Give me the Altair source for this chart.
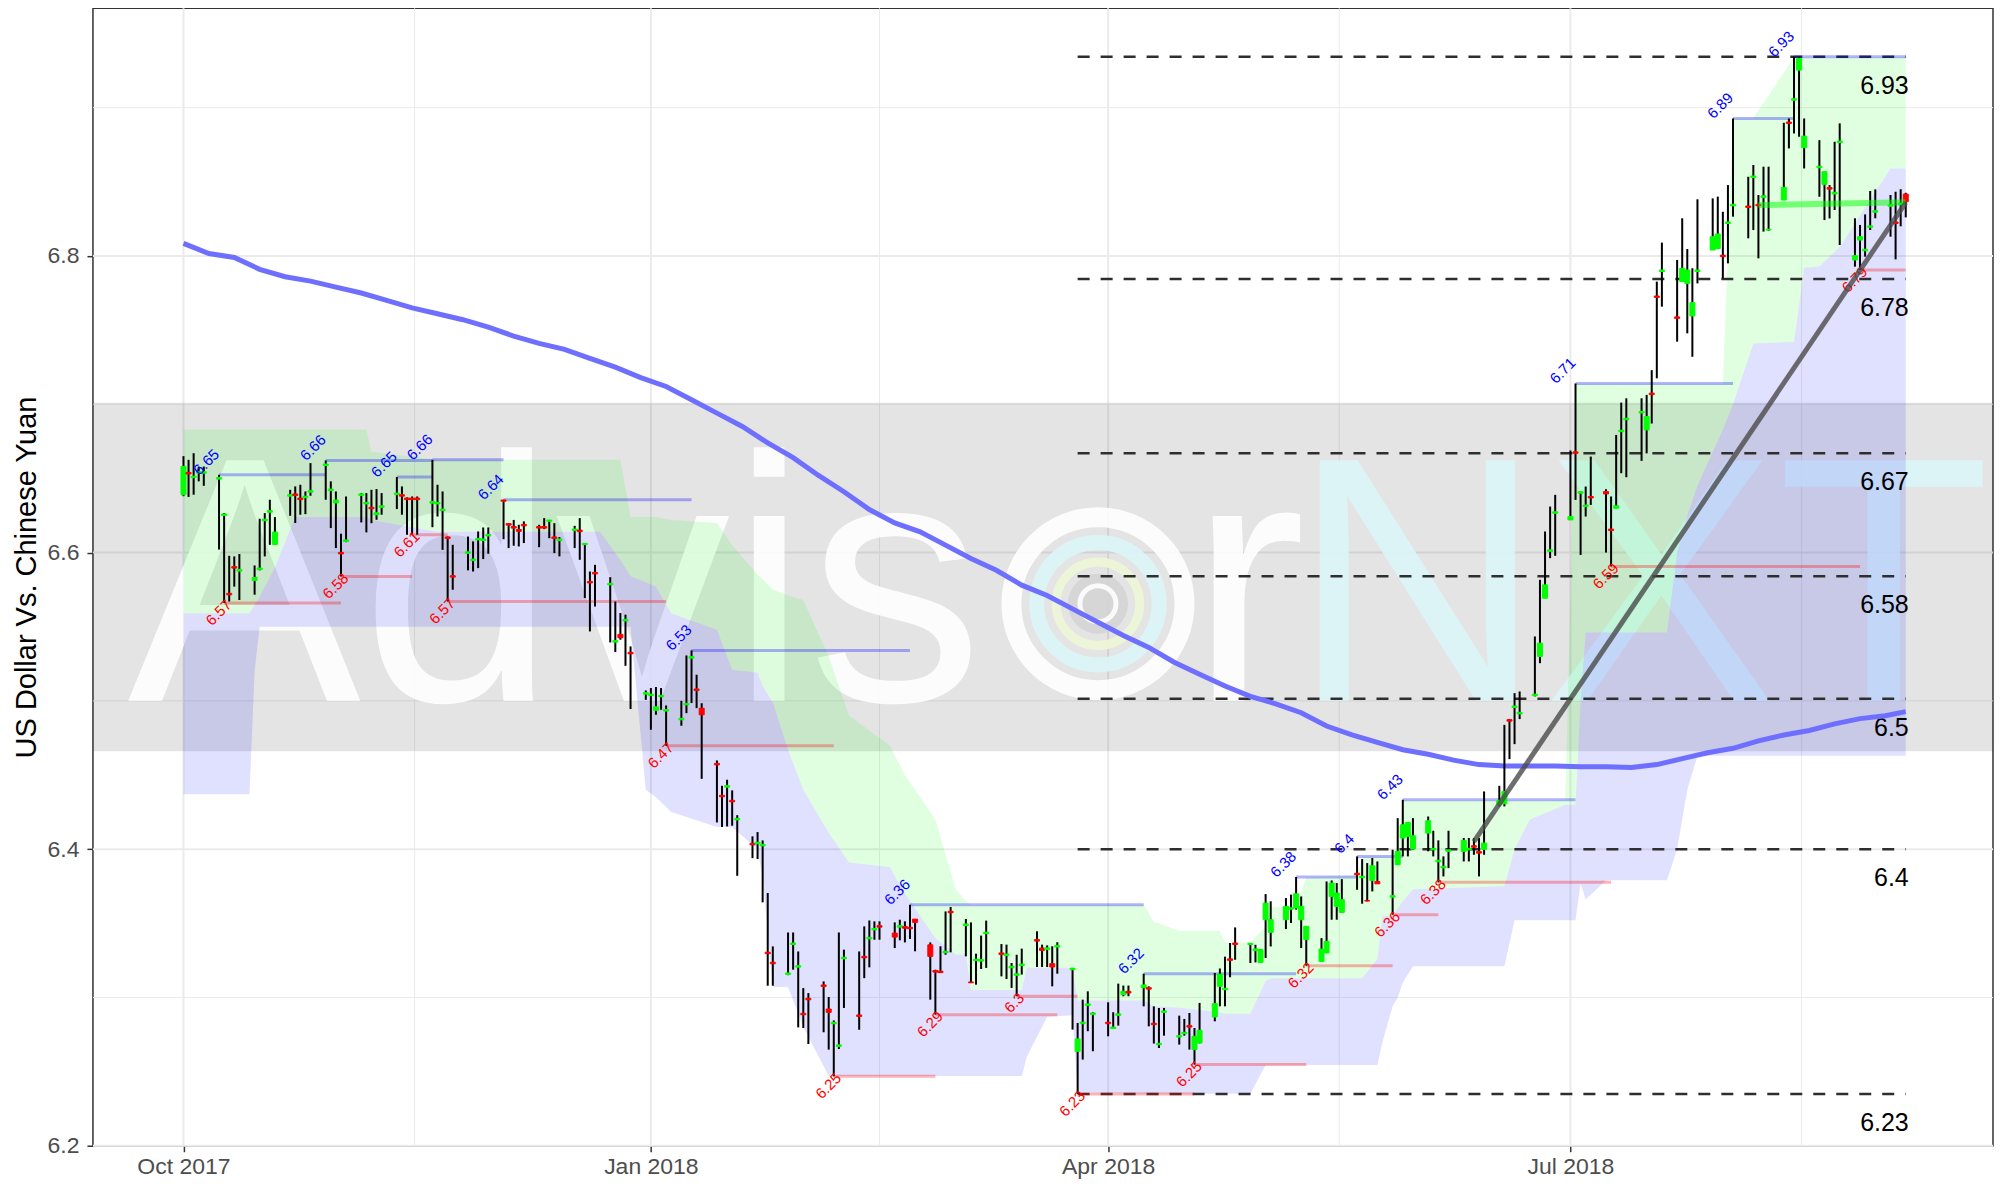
import altair as alt
import pandas as pd

W, H = 1901, 1138
FONT = "Liberation Sans"

# ---------------- daily candles (one row per trading day, week by week) -------------
OPEN = [
    6.639, 6.654, 6.6505, 6.6535, 6.6535,
    6.6495, 6.625, 6.5725, 6.5905, 6.5875,
    6.5812, 6.5885, 6.6215, 6.6272, 6.6055,
    6.638, 6.6395, 6.6367, 6.637, 6.6407,
    6.6587, 6.6418, 6.6335, 6.6001, 6.6075,
    6.6385, 6.6328, 6.6305, 6.6255, 6.6305,
    6.6391, 6.639, 6.6367, 6.6367, 6.6367,
    6.6333, 6.6328, 6.6283, 6.6105, 6.5844,
    6.5995, 6.5946, 6.6085, 6.6081, 6.6112,
    6.6354, 6.6195, 6.6175, 6.6155, 6.619,
    6.6175, 6.6175, 6.6211, 6.6105, 6.6081,
    6.6148, 6.6151, 6.6054, 6.5805, 6.5866,
    6.5782, 6.5396, 6.5448, 6.5539, 6.5327,
    6.5045, 6.5035, 6.4936, 6.5027, 6.4931,
    6.4872, 6.4973, 6.5288, 6.508, 6.495,
    6.4578, 6.4363, 6.4418, 6.4329, 6.4197,
    6.4039, 6.4036, 6.4022, 6.3305, 6.3237,
    6.3155, 6.3357, 6.3204, 6.2893, 6.2994,
    6.3084, 6.2922, 6.2822, 6.267, 6.3261,
    6.2882, 6.3277, 6.3395, 6.3455, 6.3484,
    6.3434, 6.3474, 6.3477, 6.3473, 6.3528,
    6.3355, 6.3181, 6.3177, 6.3301, 6.3581,
    6.3485, 6.3104, 6.3248, 6.3245, 6.343,
    6.33, 6.3283, 6.32, 6.3149, 6.3215,
    6.339, 6.3333, 6.3324, 6.3228, 6.334,
    6.3187, 6.2636, 6.2823, 6.2946, 6.2885,
    6.2833, 6.279, 6.2879, 6.3019, 6.3041,
    6.3066, 6.3066, 6.2826, 6.2681, 6.2899,
    6.2733, 6.2755, 6.281, 6.2648, 6.2693,
    6.2868, 6.3075, 6.3052, 6.326, 6.3367,
    6.3357, 6.3317, 6.3236, 6.3524, 6.3439,
    6.3524, 6.3595, 6.3603, 6.3524, 6.339,
    6.3243, 6.33, 6.3681, 6.3614, 6.3573,
    6.3837, 6.3807, 6.3653, 6.3789, 6.3782,
    6.3676, 6.3895, 6.4075, 6.4086, 6.4001,
    6.4108, 6.3995, 6.3915, 6.3874, 6.3985,
    6.3985, 6.3995, 6.4023, 6.3983, 6.3999,
    6.4299, 6.4306, 6.4873, 6.4955, 6.4912,
    6.5035, 6.5299, 6.5692, 6.6008, 6.6265,
    6.622, 6.6679, 6.64, 6.631, 6.6378,
    6.6411, 6.6158, 6.6299, 6.6815, 6.6895,
    6.6941, 6.6827, 6.7075, 6.773, 6.7895,
    6.7589, 6.7827, 6.7815, 6.7595, 6.7895,
    6.804, 6.805, 6.8005, 6.8219, 6.8338,
    6.8337, 6.8529, 6.8348, 6.8395, 6.8175,
    6.8377, 6.8903, 6.905, 6.9253, 6.873,
    6.8595, 6.8483, 6.8461, 6.8418, 6.8765,
    6.7973, 6.8107, 6.8035, 6.8193, 6.8295,
    6.8335, 6.8229, 6.8345, 6.8417,
]
HIGH = [
    6.665, 6.6625, 6.667, 6.658, 6.658,
    6.6524, 6.6266, 6.5978, 6.5974, 6.599,
    6.5913, 6.6228, 6.6266, 6.6356, 6.6239,
    6.6423, 6.6446, 6.6457, 6.6412, 6.6603,
    6.6621, 6.648, 6.6412, 6.6127, 6.6378,
    6.6401, 6.6401, 6.6423, 6.6428, 6.6401,
    6.6509, 6.6446, 6.6372, 6.6378, 6.6378,
    6.6625, 6.6457, 6.6412, 6.6108, 6.6052,
    6.6108, 6.6075, 6.6142, 6.6169, 6.6169,
    6.6356, 6.6198, 6.622, 6.6187, 6.621,
    6.6187, 6.6232, 6.622, 6.6198, 6.6104,
    6.618, 6.6232, 6.6063, 6.5872, 6.5917,
    6.5834, 6.567, 6.5592, 6.5581, 6.5367,
    6.507, 6.5086, 6.5093, 6.5086, 6.4969,
    6.5, 6.5306, 6.534, 6.5176, 6.4984,
    6.4598, 6.4427, 6.4468, 6.4396, 6.4229,
    6.4086, 6.4115, 6.4059, 6.3704, 6.3344,
    6.3438, 6.3438, 6.331, 6.3063, 6.3029,
    6.3108, 6.3003, 6.2845, 6.3438, 6.3322,
    6.331, 6.3479, 6.3519, 6.3513, 6.3513,
    6.3506, 6.3524, 6.3513, 6.3625, 6.3528,
    6.3371, 6.3187, 6.3345, 6.358, 6.361,
    6.3529, 6.3506, 6.3295, 6.3417, 6.3518,
    6.336, 6.3356, 6.3232, 6.3288, 6.3329,
    6.3446, 6.3356, 6.3351, 6.3345, 6.3372,
    6.3199, 6.2828, 6.2985, 6.3041, 6.29,
    6.2967, 6.29, 6.3093, 6.308, 6.308,
    6.316, 6.3075, 6.294, 6.2929, 6.2929,
    6.2877, 6.2855, 6.2895, 6.2794, 6.2963,
    6.3165, 6.3195, 6.3275, 6.3367, 6.3472,
    6.3367, 6.3355, 6.3326, 6.3697, 6.3648,
    6.367, 6.3693, 6.3812, 6.3681, 6.3479,
    6.34, 6.3782, 6.3789, 6.3771, 6.3798,
    6.3951, 6.3933, 6.3906, 6.394, 6.3917,
    6.3996, 6.4209, 6.4333, 6.418, 6.4209,
    6.422, 6.4124, 6.4059, 6.3951, 6.4124,
    6.4075, 6.4075, 6.4075, 6.4075, 6.4389,
    6.4427, 6.4838, 6.4877, 6.5052, 6.5063,
    6.5434, 6.5816, 6.6142, 6.631, 6.6389,
    6.6688, 6.714, 6.6411, 6.6445, 6.6647,
    6.6427, 6.6378, 6.6793, 6.7011, 6.704,
    6.704, 6.7063, 6.723, 6.7827, 6.809,
    6.7973, 6.8254, 6.8047, 6.7917, 6.8382,
    6.8388, 6.84, 6.8298, 6.8478, 6.8927,
    6.8534, 6.8613, 6.8411, 6.8602, 6.8602,
    6.8898, 6.8927, 6.9343, 6.9343, 6.8927,
    6.8781, 6.8568, 6.8478, 6.877, 6.8894,
    6.8254, 6.8209, 6.828, 6.8438, 6.8449,
    6.8411, 6.8433, 6.845, 6.8426,
]
LOW = [
    6.638, 6.6375, 6.639, 6.648, 6.645,
    6.602, 6.566, 6.567, 6.577, 6.568,
    6.5716, 6.588, 6.5974, 6.6052, 6.6052,
    6.6248, 6.6199, 6.6255, 6.6259, 6.6383,
    6.6356, 6.6165, 6.603, 6.5839, 6.607,
    6.6203, 6.6136, 6.6198, 6.6221, 6.6255,
    6.6293, 6.6255, 6.612, 6.612, 6.612,
    6.6171, 6.6243, 6.6018, 6.567, 6.5749,
    6.588, 6.5872, 6.5895, 6.5956, 6.5992,
    6.609, 6.603, 6.6046, 6.6041, 6.6064,
    6.6036, 6.6158, 6.6097, 6.5996, 6.5974,
    6.603, 6.5951, 6.5693, 6.5468, 6.5636,
    6.5394, 6.5329, 6.5412, 6.5236, 6.4945,
    6.5007, 6.4805, 6.4906, 6.494, 6.4697,
    6.4832, 6.4917, 6.4985, 6.4951, 6.4474,
    6.418, 6.4149, 6.4153, 6.4158, 6.382,
    6.3939, 6.3933, 6.3641, 6.3079, 6.3079,
    6.315, 6.3187, 6.2798, 6.2794, 6.2686,
    6.2765, 6.2648, 6.2468, 6.2652, 6.2929,
    6.2782, 6.313, 6.3203, 6.3389, 6.3389,
    6.3333, 6.3385, 6.3371, 6.3394, 6.3311,
    6.2985, 6.2884, 6.3165, 6.3288, 6.3304,
    6.3277, 6.3097, 6.3086, 6.3192, 6.3199,
    6.3142, 6.3124, 6.3064, 6.3008, 6.3154,
    6.3205, 6.3205, 6.3205, 6.3075, 6.316,
    6.2783, 6.2349, 6.2581, 6.2772, 6.2637,
    6.2738, 6.2788, 6.281, 6.3008, 6.3008,
    6.294, 6.2805, 6.2689, 6.2659, 6.2742,
    6.2682, 6.2742, 6.2648, 6.2547, 6.269,
    6.2839, 6.294, 6.294, 6.3136, 6.3254,
    6.3232, 6.3236, 6.3236, 6.3266, 6.3344,
    6.3461, 6.3502, 6.3592, 6.3333, 6.3214,
    6.3243, 6.33, 6.3524, 6.3524, 6.3573,
    6.3726, 6.3632, 6.3648, 6.3715, 6.3771,
    6.3558, 6.3895, 6.3951, 6.3951, 6.3996,
    6.3985, 6.3951, 6.3776, 6.3816, 6.3872,
    6.3917, 6.3917, 6.3962, 6.3816, 6.3962,
    6.4288, 6.4288, 6.4607, 6.4708, 6.4877,
    6.503, 6.5254, 6.5692, 6.5962, 6.5978,
    6.622, 6.6355, 6.5984, 6.6243, 6.6321,
    6.6, 6.5906, 6.6299, 6.6535, 6.6508,
    6.6618, 6.6669, 6.687, 6.7175, 6.7658,
    6.7422, 6.7827, 6.7478, 6.732, 6.7815,
    6.804, 6.805, 6.7849, 6.795, 6.8265,
    6.8119, 6.8175, 6.7984, 6.8164, 6.817,
    6.8377, 6.8725, 6.8826, 6.8804, 6.859,
    6.8399, 6.8242, 6.8253, 6.831, 6.8074,
    6.7928, 6.7905, 6.7995, 6.8175, 6.8254,
    6.813, 6.7977, 6.82, 6.826,
]
CLOSE = [
    6.658, 6.653, 6.6515, 6.6545, 6.6545,
    6.6505, 6.626, 6.5715, 6.5895, 6.5885,
    6.5832, 6.5895, 6.6225, 6.6282, 6.6138,
    6.639, 6.6385, 6.6357, 6.638, 6.6417,
    6.6597, 6.6428, 6.6354, 6.5991, 6.6085,
    6.6395, 6.6338, 6.6295, 6.6268, 6.6315,
    6.6401, 6.638, 6.6357, 6.6357, 6.6357,
    6.6343, 6.6338, 6.6293, 6.6095, 6.5834,
    6.6005, 6.5956, 6.6095, 6.6091, 6.6122,
    6.6346, 6.6185, 6.6165, 6.6143, 6.618,
    6.6165, 6.6165, 6.6219, 6.6095, 6.6091,
    6.6158, 6.6141, 6.6062, 6.5795, 6.5856,
    6.5792, 6.5406, 6.5425, 6.5549, 6.5317,
    6.5055, 6.5045, 6.496, 6.5037, 6.4941,
    6.4882, 6.4983, 6.5298, 6.507, 6.4906,
    6.4568, 6.4353, 6.4428, 6.4319, 6.4207,
    6.4029, 6.4046, 6.4032, 6.3295, 6.3227,
    6.3165, 6.3367, 6.3214, 6.2883, 6.2984,
    6.3074, 6.2899, 6.2832, 6.268, 6.3271,
    6.2872, 6.3267, 6.3405, 6.3465, 6.3474,
    6.3407, 6.3484, 6.3467, 6.3463, 6.3506,
    6.3277, 6.3171, 6.3167, 6.3311, 6.3571,
    6.3495, 6.3099, 6.3258, 6.3255, 6.344,
    6.329, 6.3293, 6.321, 6.3159, 6.3225,
    6.338, 6.3317, 6.3334, 6.3205, 6.335,
    6.3197, 6.272, 6.2833, 6.2956, 6.2895,
    6.2823, 6.28, 6.2889, 6.3041, 6.303,
    6.3084, 6.3056, 6.2816, 6.2691, 6.2909,
    6.2743, 6.2765, 6.28, 6.2738, 6.2778,
    6.2958, 6.3157, 6.3062, 6.325, 6.3357,
    6.3365, 6.3327, 6.3322, 6.3636, 6.3524,
    6.3614, 6.3605, 6.3699, 6.3614, 6.3479,
    6.3326, 6.3378, 6.3771, 6.3704, 6.3659,
    6.3827, 6.3817, 6.365, 6.3888, 6.3766,
    6.3686, 6.3985, 6.4164, 6.418, 6.409,
    6.4191, 6.4005, 6.3925, 6.3884, 6.3995,
    6.4059, 6.4005, 6.4013, 6.3973, 6.4041,
    6.4329, 6.4389, 6.4863, 6.4965, 6.4922,
    6.5045, 6.5389, 6.5782, 6.6018, 6.6275,
    6.6243, 6.6669, 6.641, 6.632, 6.6368,
    6.6395, 6.6148, 6.6315, 6.6825, 6.6905,
    6.6951, 6.6917, 6.7065, 6.772, 6.7905,
    6.7579, 6.7917, 6.7905, 6.7685, 6.7905,
    6.813, 6.8148, 6.7995, 6.8229, 6.8348,
    6.8327, 6.8539, 6.8338, 6.8405, 6.818,
    6.8462, 6.8893, 6.906, 6.9332, 6.8808,
    6.8605, 6.8568, 6.8451, 6.8429, 6.8775,
    6.8002, 6.813, 6.8045, 6.8203, 6.8305,
    6.8345, 6.8219, 6.8355, 6.8366,
]

n = min(len(OPEN), len(HIGH), len(LOW), len(CLOSE))
dates = (pd.bdate_range("2017-10-02", periods=n) - pd.Timedelta(days=1)).strftime("%Y-%m-%d")
candles = pd.DataFrame({"date": list(dates), "open": OPEN[:n], "high": HIGH[:n],
                        "low": LOW[:n], "close": CLOSE[:n]})

# ---------------- channel ribbons (upper / middle / lower edges) ----------------
RIB_DATES = ["2017-10-01", "2017-10-14", "2017-10-15", "2017-10-16", "2017-10-19", "2017-10-23",
             "2017-11-06", "2017-11-07", "2017-11-20", "2017-12-22", "2017-12-26", "2017-12-28",
             "2017-12-31", "2018-01-02", "2018-01-05", "2018-01-14", "2018-01-17", "2018-01-22",
             "2018-01-23", "2018-01-25", "2018-01-28", "2018-01-31", "2018-02-05", "2018-02-09",
             "2018-02-17", "2018-02-20", "2018-02-26", "2018-03-02", "2018-03-04", "2018-03-05",
             "2018-03-15", "2018-03-16", "2018-03-20", "2018-03-25", "2018-03-26", "2018-04-08",
             "2018-04-10", "2018-04-15", "2018-04-23", "2018-04-24", "2018-04-29", "2018-05-02",
             "2018-05-03", "2018-05-08", "2018-05-10", "2018-05-20", "2018-05-21", "2018-05-24",
             "2018-05-25", "2018-05-27", "2018-05-28", "2018-05-29", "2018-05-31", "2018-06-18",
             "2018-06-20", "2018-06-23", "2018-06-30", "2018-07-02", "2018-07-03", "2018-07-04",
             "2018-07-08", "2018-07-20", "2018-07-22", "2018-07-24", "2018-07-26", "2018-07-31",
             "2018-08-02", "2018-08-06", "2018-08-14", "2018-08-16", "2018-08-19", "2018-08-23",
             "2018-09-02", "2018-09-05"]
RIB_UPPER = [6.683, 6.683, 6.683, 6.683, 6.683, 6.683,
             6.683, 6.668, 6.6625, 6.6625, 6.6625, 6.624,
             6.624, 6.624, 6.622, 6.62, 6.605, 6.585,
             6.582, 6.575, 6.571, 6.568, 6.53, 6.49,
             6.47, 6.45, 6.42, 6.373, 6.365, 6.3625,
             6.3625, 6.3625, 6.3625, 6.3625, 6.3625, 6.3625,
             6.351, 6.345, 6.345, 6.337, 6.337, 6.348,
             6.361, 6.361, 6.381, 6.382, 6.395, 6.395,
             6.395, 6.395, 6.402, 6.433, 6.433, 6.433,
             6.433, 6.433, 6.433, 6.714, 6.714, 6.714,
             6.714, 6.714, 6.714, 6.714, 6.714, 6.714,
             6.893, 6.893, 6.934, 6.934, 6.934, 6.934,
             6.934, 6.934]
RIB_MID = [6.559, 6.559, 6.565, 6.57, 6.59, 6.624,
           6.624, 6.622, 6.614, 6.614, 6.595, 6.584,
           6.58, 6.577, 6.559, 6.548, 6.521, 6.519,
           6.51, 6.499, 6.467, 6.44, 6.411, 6.391,
           6.388, 6.37, 6.34, 6.329, 6.329, 6.305,
           6.305, 6.32, 6.32, 6.32, 6.298, 6.298,
           6.294, 6.293, 6.29, 6.289, 6.289, 6.311,
           6.313, 6.313, 6.313, 6.313, 6.313, 6.326,
           6.355, 6.355, 6.36, 6.365, 6.373, 6.375,
           6.40, 6.42, 6.43, 6.43, 6.50, 6.546,
           6.546, 6.546, 6.60, 6.625, 6.645, 6.683,
           6.70, 6.741, 6.742, 6.792, 6.793, 6.806,
           6.859, 6.859]
RIB_LOWER = [6.437, 6.437, 6.52, 6.55, 6.55, 6.55,
             6.55, 6.55, 6.55, 6.55, 6.55, 6.55,
             6.44, 6.435, 6.425, 6.415, 6.415, 6.40,
             6.381, 6.307, 6.307, 6.28, 6.247, 6.247,
             6.247, 6.247, 6.247, 6.247, 6.247, 6.247,
             6.247, 6.26, 6.287, 6.288, 6.236, 6.235,
             6.235, 6.235, 6.235, 6.235, 6.235, 6.2545,
             6.2545, 6.2545, 6.2545, 6.2545, 6.2545, 6.2545,
             6.27, 6.294, 6.30, 6.31, 6.321, 6.321,
             6.352, 6.352, 6.352, 6.352, 6.377, 6.366,
             6.379, 6.379, 6.40, 6.44, 6.463, 6.463,
             6.463, 6.463, 6.463, 6.463, 6.463, 6.463,
             6.463, 6.463]
ribbon = pd.DataFrame({"date": RIB_DATES, "upper": RIB_UPPER, "mid": RIB_MID, "lower": RIB_LOWER})

# ---------------- long moving average ----------------
MA_DATES = ["2017-10-01", "2017-10-06", "2017-10-11", "2017-10-16", "2017-10-21", "2017-10-26",
            "2017-10-31", "2017-11-05", "2017-11-10", "2017-11-15", "2017-11-20", "2017-11-25",
            "2017-11-30", "2017-12-05", "2017-12-10", "2017-12-15", "2017-12-20", "2017-12-25",
            "2017-12-30", "2018-01-04", "2018-01-09", "2018-01-14", "2018-01-19", "2018-01-24",
            "2018-01-29", "2018-02-03", "2018-02-08", "2018-02-13", "2018-02-18", "2018-02-23",
            "2018-02-28", "2018-03-05", "2018-03-10", "2018-03-15", "2018-03-20", "2018-03-25",
            "2018-03-30", "2018-04-04", "2018-04-09", "2018-04-14", "2018-04-19", "2018-04-24",
            "2018-04-29", "2018-05-04", "2018-05-09", "2018-05-14", "2018-05-19", "2018-05-24",
            "2018-05-29", "2018-06-03", "2018-06-08", "2018-06-13", "2018-06-18", "2018-06-23",
            "2018-06-28", "2018-07-03", "2018-07-08", "2018-07-13", "2018-07-18", "2018-07-23",
            "2018-07-28", "2018-08-02", "2018-08-07", "2018-08-12", "2018-08-17", "2018-08-22",
            "2018-08-27", "2018-09-01", "2018-09-05"]
MA_VALUES = [6.8085, 6.8016, 6.799, 6.791, 6.786, 6.783,
             6.779, 6.775, 6.770, 6.765, 6.761, 6.757,
             6.752, 6.746, 6.741, 6.737, 6.731, 6.725,
             6.718, 6.712, 6.703, 6.694, 6.685, 6.674,
             6.664, 6.652, 6.641, 6.629, 6.620, 6.614,
             6.605, 6.596, 6.588, 6.578, 6.571, 6.562,
             6.553, 6.544, 6.536, 6.526, 6.518, 6.510,
             6.503, 6.498, 6.492, 6.483, 6.477, 6.472,
             6.467, 6.464, 6.460, 6.457, 6.456, 6.456,
             6.456, 6.4556, 6.4556, 6.455, 6.457, 6.461,
             6.465, 6.468, 6.473, 6.477, 6.480, 6.4845,
             6.488, 6.490, 6.4927]
ma = pd.DataFrame({"date": MA_DATES, "value": MA_VALUES})

# ---------------- resistance (blue) and support (red) marks ----------------
RES_START = ["2017-10-08", "2017-10-29", "2017-11-12", "2017-11-19", "2017-12-03", "2018-01-09",
             "2018-02-21", "2018-04-08", "2018-05-08", "2018-05-20", "2018-05-29", "2018-07-02",
             "2018-08-02", "2018-08-14"]
RES_END = ["2017-10-29", "2017-11-19", "2017-11-19", "2017-12-03", "2018-01-09", "2018-02-21",
           "2018-04-08", "2018-05-08", "2018-05-20", "2018-05-29", "2018-07-02", "2018-08-02",
           "2018-08-14", "2018-09-05"]
RES_VALUE = [6.6524, 6.6621, 6.6509, 6.6625, 6.6356, 6.534, 6.3625, 6.316, 6.3812, 6.3951,
             6.4333, 6.714, 6.8927, 6.9343]
RES_TEXT = ["6.65", "6.66", "6.65", "6.66", "6.64", "6.53", "6.36", "6.32", "6.38", "6.4",
            "6.43", "6.71", "6.89", "6.93"]

SUP_START = ["2017-10-09", "2017-11-01", "2017-11-15", "2017-11-22", "2018-01-04", "2018-02-06",
             "2018-02-26", "2018-03-14", "2018-03-26", "2018-04-18", "2018-05-10", "2018-05-27",
             "2018-06-05", "2018-07-09", "2018-08-27"]
SUP_END = ["2017-11-01", "2017-11-15", "2017-11-22", "2018-01-04", "2018-02-06", "2018-02-26",
           "2018-03-22", "2018-03-26", "2018-04-18", "2018-05-10", "2018-05-27", "2018-06-05",
           "2018-07-09", "2018-08-27", "2018-09-05"]
SUP_VALUE = [6.566, 6.5839, 6.612, 6.567, 6.4697, 6.2468, 6.2884, 6.3008, 6.2349, 6.2547,
             6.3214, 6.3558, 6.3776, 6.5906, 6.7905]
SUP_TEXT = ["6.57", "6.58", "6.61", "6.57", "6.47", "6.25", "6.29", "6.3", "6.23", "6.25",
            "6.32", "6.36", "6.38", "6.59", "6.79"]

res = pd.DataFrame({"start": RES_START, "end": RES_END, "v": RES_VALUE, "t": RES_TEXT})
sup = pd.DataFrame({"start": SUP_START, "end": SUP_END, "v": SUP_VALUE, "t": SUP_TEXT})

# ---------------- retracement levels ----------------
FIB_VALUES = [6.9343, 6.7845, 6.667, 6.584, 6.5014, 6.400, 6.2349]
FIB_TEXT = ["6.93", "6.78", "6.67", "6.58", "6.5", "6.4", "6.23"]
FIB_START = "2018-03-26"
FIB_END = "2018-09-05"
fib = pd.DataFrame({"v": FIB_VALUES, "t": FIB_TEXT, "start": FIB_START, "end": FIB_END})

TREND_DATES = ["2018-06-12", "2018-09-05"]
TREND_VALUES = [6.405, 6.836]
FLAT_DATES = ["2018-08-07", "2018-09-05"]
FLAT_VALUES = [6.8343, 6.8362]

BAND = [6.466, 6.701]
Y_MAJOR = [6.2, 6.4, 6.6, 6.8]
Y_MINOR = [6.3, 6.5, 6.7, 6.9]
X_MAJOR = ["2017-10-01", "2018-01-01", "2018-04-01", "2018-07-01"]
X_MINOR = ["2017-11-15T12:00:00Z", "2018-02-15T00:00:00Z", "2018-05-16T12:00:00Z", "2018-08-15T12:00:00Z"]

WM_TEXT = ["Advis", "r", "NXT"]
WM_DATES = ["2017-09-20", "2018-04-17", "2018-05-07"]
WM_COLORS = ["#FFFFFF", "#FFFFFF", "#DDF6FA"]
LOGO_DATE = ["2018-03-30"]
LOGO_Y = [6.5655]

# ---------------- scales, axes & helpers ----------------
XS = alt.Scale(type="utc", domain=[
    alt.DateTime(year=2017, month=9, date=14, hours=4, utc=True),
    alt.DateTime(year=2018, month=9, date=21, hours=4, minutes=34, utc=True)])
YS = alt.Scale(domain=[6.2, 6.967], nice=False, zero=False)

X_AXIS = alt.Axis(
    values=[alt.DateTime(year=2017, month=10, date=1, utc=True),
            alt.DateTime(year=2018, month=1, date=1, utc=True),
            alt.DateTime(year=2018, month=4, date=1, utc=True),
            alt.DateTime(year=2018, month=7, date=1, utc=True)],
    format="%b %Y", title=None, grid=False, domain=False,
    tickSize=6, tickWidth=1.5, tickColor="#333333",
    labelFont=FONT, labelFontSize=23, labelColor="#4D4D4D", labelPadding=4,
    labelFlush=False, labelOverlap=False)
Y_AXIS = alt.Axis(
    values=Y_MAJOR, format=".1f", title="US Dollar Vs. Chinese Yuan",
    titleFont=FONT, titleFontSize=29, titleFontWeight="normal", titleColor="black",
    titlePadding=6, grid=False, domain=False,
    tickSize=6, tickWidth=1.5, tickColor="#333333",
    labelFont=FONT, labelFontSize=23, labelColor="#4D4D4D", labelPadding=8,
    labelFlush=False)


def X(f):
    return alt.X(f, type="temporal", scale=XS, axis=X_AXIS)


def Y(f):
    return alt.Y(f, type="quantitative", scale=YS, axis=Y_AXIS)


# grid
gy_major = alt.Chart(pd.DataFrame({"v": Y_MAJOR})).mark_rule(color="#EBEBEB", strokeWidth=2).encode(y=Y("v"))
gy_minor = alt.Chart(pd.DataFrame({"v": Y_MINOR})).mark_rule(color="#EBEBEB", strokeWidth=1).encode(y=Y("v"))
gx_major = alt.Chart(pd.DataFrame({"d": X_MAJOR})).mark_rule(color="#EBEBEB", strokeWidth=2).encode(x=X("d"))
gx_minor = alt.Chart(pd.DataFrame({"d": X_MINOR})).mark_rule(color="#EBEBEB", strokeWidth=1).encode(x=X("d"))

# watermark banner
band = alt.Chart(pd.DataFrame({"lo": [BAND[0]], "hi": [BAND[1]]})).mark_rect(
    color="black", opacity=0.105).encode(y=Y("lo"), y2=alt.Y2("hi"), x=alt.value(0), x2=alt.value(W))
wm = pd.DataFrame({"date": WM_DATES, "y": [6.5] * 3, "t": WM_TEXT, "c": WM_COLORS})
wm_text = alt.Chart(wm).mark_text(font=FONT, fontSize=350, align="left", baseline="alphabetic",
                                  opacity=0.9).encode(
    x=X("date"), y=Y("y"), text="t:N", color=alt.Color("c:N", scale=None))
logo = pd.DataFrame({"date": LOGO_DATE, "y": LOGO_Y})
ring_outer = alt.Chart(logo).mark_point(shape="circle", filled=False, size=30000, strokeWidth=20,
                                        color="white", opacity=0.9).encode(x=X("date"), y=Y("y"))
ring_mid = alt.Chart(logo).mark_point(shape="circle", filled=False, size=15000, strokeWidth=15,
                                      color="#DDF6FA", opacity=0.9).encode(x=X("date"), y=Y("y"))
ring_in = alt.Chart(logo).mark_point(shape="circle", filled=False, size=7000, strokeWidth=9,
                                     color="#EEF7D8", opacity=0.9).encode(x=X("date"), y=Y("y"))
disk = alt.Chart(logo).mark_point(shape="circle", filled=True, size=3600,
                                  color="#D4D4D4", opacity=0.9).encode(x=X("date"), y=Y("y"))
disk_ring = alt.Chart(logo).mark_point(shape="circle", filled=False, size=1300, strokeWidth=5,
                                       color="white", opacity=0.9).encode(x=X("date"), y=Y("y"))

# ribbons
green_rib = alt.Chart(ribbon).mark_area(color="#00FF00", opacity=0.12).encode(
    x=X("date"), y=Y("upper"), y2=alt.Y2("mid"))
blue_rib = alt.Chart(ribbon).mark_area(color="#0000FF", opacity=0.12).encode(
    x=X("date"), y=Y("mid"), y2=alt.Y2("lower"))

# retracement levels
fib_lines = alt.Chart(fib).mark_rule(color="#2E2E2E", strokeWidth=2.5, strokeDash=[12, 11]).encode(
    x=X("start"), x2=alt.X2("end"), y=Y("v"))
fib_text = alt.Chart(fib).mark_text(font=FONT, fontSize=25, align="right", baseline="top", dy=17,
                                    dx=3, color="black").encode(x=X("end"), y=Y("v"), text="t:N")

ma_line = alt.Chart(ma).mark_line(color="#6F6FFF", strokeWidth=5).encode(x=X("date"), y=Y("value"))

res_lines = alt.Chart(res).mark_rule(color="#0000FF", strokeWidth=3, opacity=0.3).encode(
    x=X("start"), x2=alt.X2("end"), y=Y("v"))
sup_lines = alt.Chart(sup).mark_rule(color="#FF0000", strokeWidth=3, opacity=0.3).encode(
    x=X("start"), x2=alt.X2("end"), y=Y("v"))
res_text = alt.Chart(res).mark_text(font=FONT, fontSize=15, angle=315, align="center",
                                    baseline="middle", dy=-18, color="#0000FF").encode(
    x=X("start"), y=Y("v"), text="t:N")
sup_text = alt.Chart(sup).mark_text(font=FONT, fontSize=15, angle=315, align="right",
                                    baseline="middle", dx=4, dy=3, color="#FF0000").encode(
    x=X("start"), y=Y("v"), text="t:N")

# candles
wick = alt.Chart(candles).mark_rule(color="black", strokeWidth=2).encode(
    x=X("date"), y=Y("low"), y2=alt.Y2("high"))
up_cond = "datum.close >= datum.open"
body = alt.Chart(candles).mark_bar(size=5, strokeWidth=1).encode(
    x=X("date"), y=Y("open"), y2=alt.Y2("close"),
    fill=alt.condition(up_cond, alt.value("#00FF00"), alt.value("#FF0000")),
    stroke=alt.condition(up_cond, alt.value("#00FF00"), alt.value("#FF0000")))

trend = alt.Chart(pd.DataFrame({"date": TREND_DATES, "v": TREND_VALUES})).mark_line(
    color="#4A4A4A", opacity=0.8, strokeWidth=5).encode(x=X("date"), y=Y("v"))
flat = alt.Chart(pd.DataFrame({"date": FLAT_DATES, "v": FLAT_VALUES})).mark_line(
    color="#00FF00", opacity=0.5, strokeWidth=6).encode(x=X("date"), y=Y("v"))

chart = alt.layer(
    gy_major, gy_minor, gx_major, gx_minor,
    band, wm_text, ring_outer, ring_mid, ring_in, disk, disk_ring,
    green_rib, blue_rib,
    fib_lines, fib_text, ma_line,
    res_lines, sup_lines,
    wick, body,
    res_text, sup_text,
    flat, trend,
).properties(
    width=W, height=H,
    autosize=alt.AutoSizeParams(type="none"),
    padding={"left": 85, "top": 0, "right": 6, "bottom": 34},
).configure_view(stroke="#333333", strokeWidth=1.5)

chart.save("out.html", embed_options={"renderer": "svg", "actions": False})
